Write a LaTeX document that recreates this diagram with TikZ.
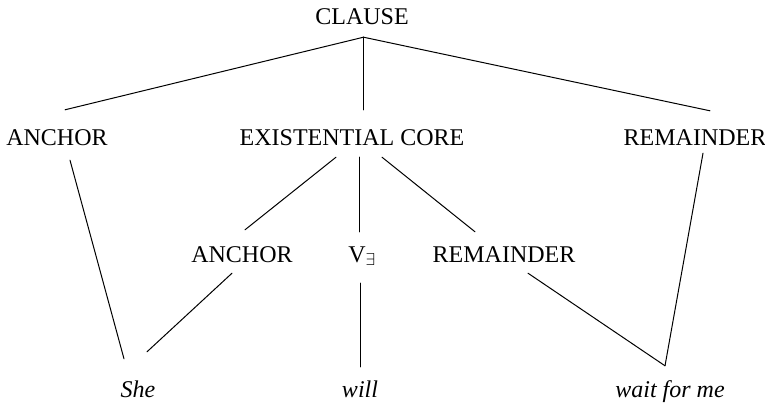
\documentclass[tikz,border=0pt]{standalone}
\usepackage{fontspec}
\setmainfont{Liberation Serif}
\begin{document}
\begin{tikzpicture}[x=1pt,y=-1pt,
  lbl/.style={font=\fontsize{24}{28}\selectfont, inner sep=0pt, text height=16pt, text depth=0pt},
  word/.style={lbl, font=\fontsize{24}{28}\selectfont\itshape},
  branch/.style={line width=1pt, line cap=round}]
\useasboundingbox (0,0) rectangle (765,406);

% labels
\node[lbl] (clause) at (362,17) {CLAUSE};
\node[lbl] (anc1) at (57,138) {ANCHOR};
\node[lbl] (core) at (352,138) {EXISTENTIAL CORE};
\node[lbl] (rem1) at (695,138) {REMAINDER};
\node[lbl] (anc2) at (242,254) {ANCHOR};
\node[lbl] (vex) at (362,254) {V$_{\exists}$};
\node[lbl] (rem2) at (504,254) {REMAINDER};
\node[word] (she) at (138,389) {She};
\node[word] (will) at (360,389) {will};
\node[word] (wait) at (670,389) {wait for me};

% branching point under the root
\coordinate (top) at ([xshift=1.5pt,yshift=-12pt]clause.south);

\draw[branch] (top) -- ([xshift=8pt,yshift=20pt]anc1.north);
\draw[branch] (top) -- ([xshift=11.5pt,yshift=20pt]core.north);
\draw[branch] (top) -- ([xshift=15pt,yshift=19pt]rem1.north);

\draw[branch] ([xshift=13pt,yshift=-14pt]anc1.south) -- ([xshift=-14pt,yshift=22pt]she.north);
\draw[branch] ([xshift=8pt,yshift=-7pt]rem1.south) -- ([xshift=-5pt,yshift=15pt]wait.north);

\draw[branch] ([xshift=-16pt,yshift=-11pt]core.south) -- ([xshift=3pt,yshift=16pt]anc2.north);
\draw[branch] ([xshift=7.5pt,yshift=-11pt]core.south) -- ([xshift=-2.5pt,yshift=14pt]vex.north);
\draw[branch] ([xshift=30pt,yshift=-11pt]core.south) -- ([xshift=-29pt,yshift=14pt]rem2.north);

\draw[branch] ([xshift=-10pt,yshift=-11pt]anc2.south) -- ([xshift=9pt,yshift=29pt]she.north);
\draw[branch] ([xshift=-1.5pt,yshift=-21pt]vex.south) -- ([xshift=0.5pt,yshift=14pt]will.north);
\draw[branch] ([xshift=24pt,yshift=-11pt]rem2.south) -- ([xshift=-5pt,yshift=15pt]wait.north);
\end{tikzpicture}
\end{document}
